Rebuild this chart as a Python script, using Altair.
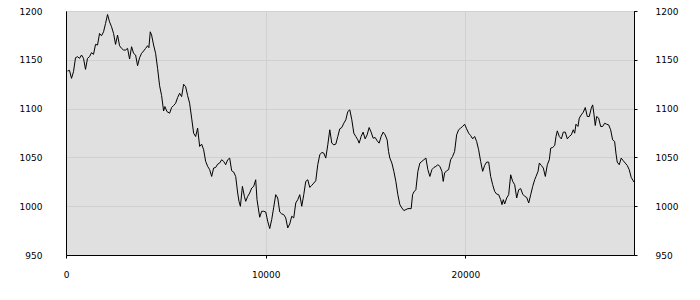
import altair as alt
import pandas as pd

x_vals = [75, 175, 276, 376, 476, 576, 677, 777, 877, 977, 1078, 1178, 1278, 1378, 1479, 1579, 1679, 1779, 1880, 1980,
          2080, 2180, 2281, 2381, 2481, 2581, 2682, 2782, 2882, 2982, 3083, 3183, 3283, 3383, 3484, 3584, 3684, 3784, 3885, 3985,
          4085, 4150, 4220, 4286, 4386, 4486, 4586,
          4687, 4787, 4887, 4952, 5053, 5188, 5288, 5386, 5489, 5589, 5689, 5789, 5890, 5990, 6090, 6190, 6291, 6391, 6491,
          6591, 6692, 6792, 6892, 6992, 7093, 7193, 7293, 7393, 7494, 7594, 7694, 7794, 7895, 7995, 8095, 8195, 8296, 8396,
          8496, 8596, 8662, 8732, 8832, 8932, 8998, 9098, 9198, 9298, 9399,
          9499, 9564, 9699, 9799, 9900, 10000, 10100, 10200, 10301, 10401, 10501, 10601, 10702, 10802, 10902, 11002, 11103,
          11203, 11303, 11403, 11504, 11604, 11704, 11804, 11905, 12005, 12105, 12205, 12306, 12406, 12506, 12606, 12707,
          12807, 12907, 13007, 13108, 13208, 13308, 13408, 13509, 13609, 13709, 13809, 13910, 14010, 14110,
          14210, 14311, 14411, 14511, 14611, 14677, 14777, 14877, 14977, 15078, 15178, 15278, 15378, 15479, 15579, 15679,
          15779, 15880, 15980, 16080, 16150, 16215, 16316, 16416, 16516, 16616, 16717, 16817, 16917, 17017, 17118, 17283,
          17353, 17418, 17518, 17619, 17719, 17819, 17919, 18020, 18120, 18220, 18320, 18421, 18521, 18621, 18721,
          18822, 18887, 18957, 19057, 19158, 19258, 19358, 19458, 19559, 19659, 19759, 19859, 19960, 20060, 20160, 20260,
          20361, 20461, 20561, 20661, 20762, 20862, 20962, 21062, 21163, 21263, 21363, 21463, 21564, 21664, 21764, 21830,
          21895, 21965, 22065, 22165, 22265, 22366, 22466, 22566, 22666, 22767, 22867, 22967, 23067, 23168, 23268, 23368, 23468,
          23535, 23635, 23700, 23800, 23900, 24000, 24100, 24200, 24270, 24370, 24470, 24535, 24600, 24700, 24800, 24900,
          25000, 25100, 25200, 25300, 25400, 25470, 25535, 25635, 25700, 25800, 25900, 26000, 26100, 26200, 26300, 26370,
          26435, 26500, 26570, 26670, 26770, 26870, 26970, 27070, 27170, 27270, 27370, 27470, 27535, 27600, 27700, 27800,
          27900, 28000, 28100, 28200, 28300, 28440]

y_vals = [1138.5, 1139.2, 1131.0, 1137.8, 1152.1, 1153.2, 1151.5, 1154.9, 1151.5, 1140.2, 1151.5, 1153.2, 1157.3, 1155.6,
          1165.8, 1165.1, 1177.0, 1174.6, 1178.7, 1187.2, 1196.4, 1188.9, 1183.8, 1177.0, 1165.8, 1175.3, 1164.4, 1161.7,
          1160.0, 1160.0, 1161.7, 1150.8, 1163.4, 1156.6, 1154.9, 1144.0, 1152.1, 1156.6, 1159.0, 1161.7, 1164.4, 1162.4,
          1178.7, 1175.3, 1165.1, 1156.6, 1141.2,
          1123.5, 1113.3, 1097.6, 1102.1, 1097.0, 1095.3, 1101.1, 1103.1, 1105.5, 1111.3, 1115.7, 1112.3, 1124.9, 1122.5,
          1113.3, 1105.5, 1090.2, 1074.8, 1071.4, 1080.0, 1061.2, 1063.6, 1057.8, 1045.9, 1040.8, 1037.4, 1030.5, 1039.1,
          1039.7, 1043.1, 1044.2, 1047.6, 1045.9, 1042.5, 1047.6, 1049.3, 1036.3, 1035.0, 1030.5, 1013.5, 1005.0, 999.9,
          1020.3, 1010.1, 1005.0, 1010.1, 1013.5, 1018.6, 1020.3,
          1027.1, 1006.7, 988.7, 994.8, 994.8, 994.1, 984.6, 977.1, 986.4, 999.0, 1011.8, 1008.4, 994.1, 992.1, 991.4,
          988.0, 977.8, 981.8, 989.7, 988.0, 1003.3, 1006.7, 1011.8, 999.9, 1011.8, 1025.4, 1027.1, 1019.3, 1021.3, 1023.7,
          1026.1, 1042.5, 1052.7, 1055.1, 1054.4, 1049.3, 1062.9, 1078.3, 1064.6, 1062.9, 1063.6, 1071.4, 1079.3, 1080.6,
          1085.0, 1088.5, 1097.0,
          1098.7, 1088.5, 1074.8, 1071.4, 1068.0, 1064.6, 1071.4, 1075.9, 1069.0, 1073.1, 1080.6, 1075.9, 1069.7, 1070.4,
          1067.0, 1064.6, 1071.4, 1075.9, 1073.1, 1068.0, 1056.1, 1049.3, 1044.2, 1035.7, 1025.4, 1011.8, 1001.6, 998.2,
          995.5, 996.5, 997.5, 997.5, 1011.8, 1014.6, 1016.9, 1035.7, 1044.2, 1045.9, 1047.6, 1049.3, 1037.4, 1030.5,
          1037.4, 1039.7, 1040.8, 1042.5, 1040.8,
          1035.7, 1025.4, 1034.0, 1036.3, 1037.4, 1047.6, 1051.0, 1056.1, 1073.1, 1078.3, 1080.0, 1081.7, 1084.0, 1079.3,
          1074.8, 1072.4, 1069.0, 1071.4, 1066.3, 1057.8, 1045.9, 1035.7, 1041.8, 1045.2, 1045.2, 1030.5, 1022.0, 1015.2,
          1012.4, 1011.8, 1006.7, 1001.6, 1006.7, 1002.3, 1008.4, 1011.8, 1032.2, 1025.4, 1022.0, 1008.4, 1016.9, 1018.0,
          1012.4, 1010.1, 1009.0, 1003.3, 1011.8, 1020.3, 1027.1,
          1030.5, 1035.7, 1044.2, 1041.8, 1039.1, 1030.5, 1042.5, 1047.6, 1059.5, 1060.2, 1062.2, 1071.4, 1077.2, 1071.4,
          1069.0, 1075.9, 1075.9, 1069.0, 1071.4, 1073.1, 1078.3, 1074.8, 1084.0, 1081.7, 1090.2, 1093.6, 1096.3, 1101.1,
          1091.9, 1091.9, 1100.4, 1103.8, 1094.3, 1082.7, 1091.9, 1090.2, 1081.7, 1081.7, 1085.0, 1084.0, 1083.3, 1078.3,
          1068.0, 1066.3, 1054.4, 1045.2, 1042.5, 1049.3, 1046.6, 1044.2, 1041.8, 1037.4, 1029.5, 1024.7]

x_ticks = [0, 10000, 20000]
y_ticks = [950, 1000, 1050, 1100, 1150, 1200]

df = pd.DataFrame({"x": x_vals, "y": y_vals})

FONT = "DejaVu Sans"
x_scale = alt.Scale(domain=[0, 28440], nice=False, zero=False)
y_scale = alt.Scale(domain=[950, 1200], nice=False, zero=False)

x_enc = alt.X("x:Q", scale=x_scale,
              axis=alt.Axis(values=x_ticks, title=None, grid=True, gridColor="#d0d0d0",
                            domainColor="black", tickColor="black", tickSize=3, labelPadding=12,
                            labelFont=FONT, labelFontSize=9, labelColor="black", format="d",
                            labelFlush=False))

base = alt.Chart(df)

left = base.mark_line(color="black", strokeWidth=1).encode(
    x=x_enc,
    y=alt.Y("y:Q", scale=y_scale,
            axis=alt.Axis(values=y_ticks, title=None, orient="left", grid=True, gridColor="#d0d0d0",
                          domainColor="black", ticks=False, tickSize=0, labelPadding=24,
                          labelFont=FONT, labelFontSize=9, labelColor="black", format="d")),
)

right = base.mark_line(strokeOpacity=0).encode(
    x=x_enc,
    y=alt.Y("y:Q", scale=y_scale,
            axis=alt.Axis(values=y_ticks, title=None, orient="right", grid=False,
                          domainColor="black", tickColor="black", tickSize=3, labelPadding=18,
                          labelFont=FONT, labelFontSize=9, labelColor="black", format="d")),
)

chart = alt.layer(left, right).resolve_axis(y="independent").properties(
    width=568,
    height=244,
    autosize=alt.AutoSizeParams(type="none"),
    padding={"left": 66, "top": 11, "right": 66, "bottom": 45},
    background="white",
).configure_view(fill="#e0e0e0", stroke="black", strokeWidth=1)

chart.save("out.html", embed_options={"renderer": "svg", "actions": False})
